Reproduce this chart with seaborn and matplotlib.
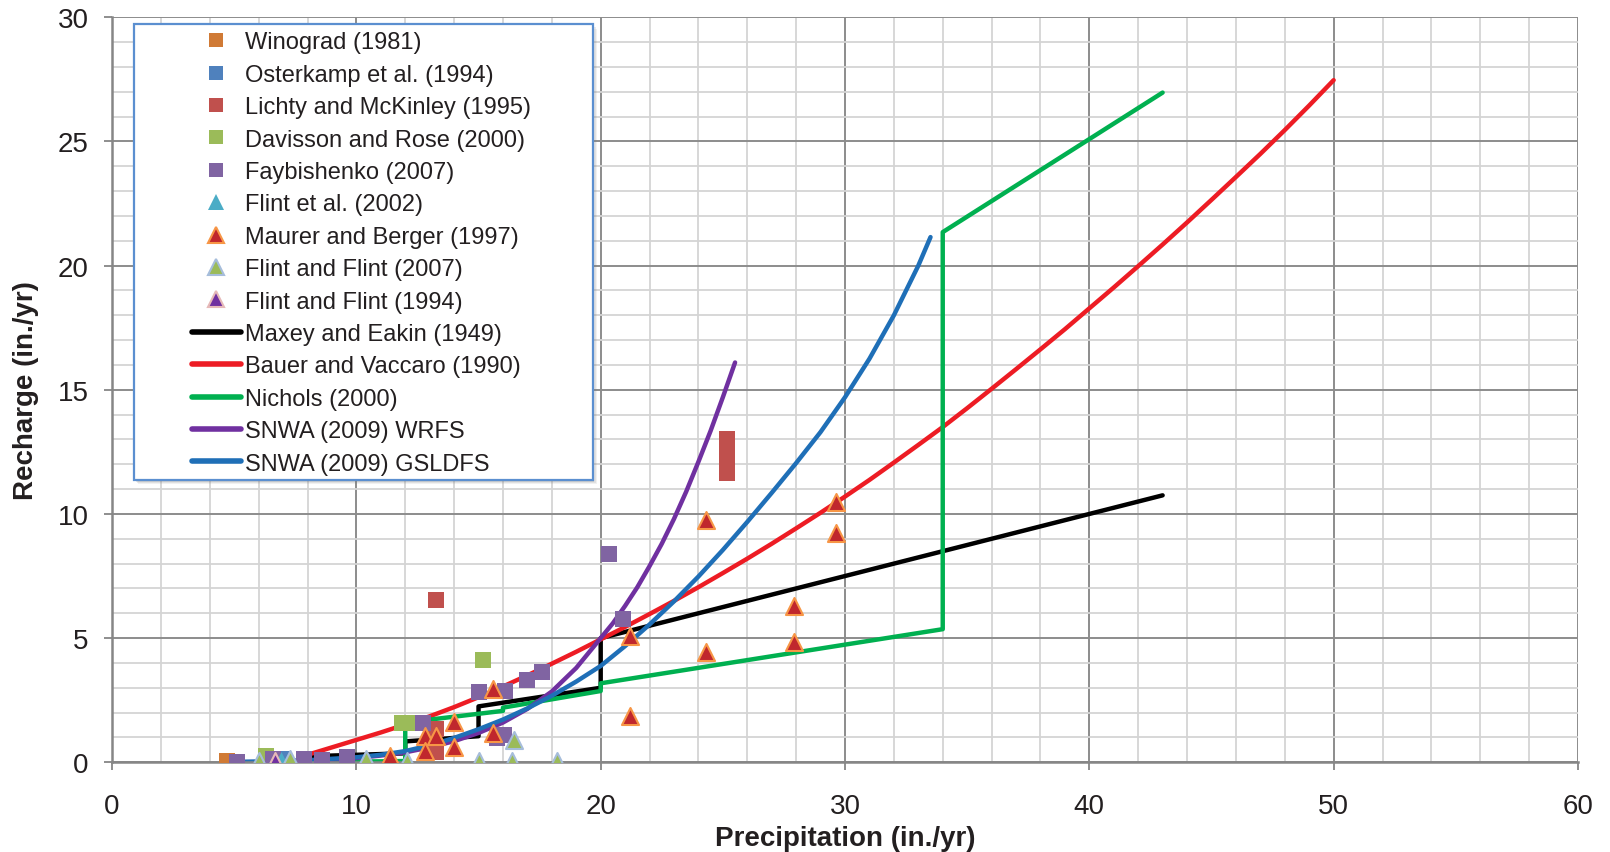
import seaborn as sns
import matplotlib.pyplot as plt
from matplotlib.lines import Line2D
from matplotlib.patches import Rectangle

# ---- point data (precipitation, recharge; in./yr) ----
winograd_x = [4.7]
winograd_y = [0.07]

osterkamp_x = [7.0]
osterkamp_y = [0.15]

lichty_x = [13.24, 13.26, 13.26, 25.16, 25.16, 25.16, 25.16]
lichty_y = [6.55, 1.34, 0.41, 11.63, 12.14, 12.57, 13.0]

davisson_x = [6.3, 11.86, 12.33, 15.2]
davisson_y = [0.27, 1.57, 1.57, 4.13]

faybishenko_x = [5.1, 6.58, 7.86, 8.58, 9.6, 12.74, 15.0, 16.09, 16.97, 17.61,
                 15.75, 16.05, 20.36, 20.9]
faybishenko_y = [0.03, 0.13, 0.15, 0.1, 0.2, 1.57, 2.81, 2.87, 3.31, 3.64,
                 0.96, 1.1, 8.38, 5.77]

flint2002_x = [6.9]
flint2002_y = [0.1]

maurer_x = [11.38, 12.79, 13.26, 12.79, 14.0, 14.0, 15.61, 15.61, 21.2, 21.2,
            24.31, 24.31, 27.92, 27.92, 29.62, 29.62]
maurer_y = [0.27, 1.07, 1.07, 0.46, 1.62, 0.63, 2.94, 1.18, 1.85, 5.07,
            9.76, 4.43, 6.31, 4.86, 10.48, 9.25]

flint2007_x = [6.03, 7.29, 10.4, 12.09, 15.0, 16.36, 18.23, 16.46]
flint2007_y = [0.07, 0.13, 0.13, 0.07, 0.07, 0.07, 0.07, 0.9]

flint1994_x = [6.67]
flint1994_y = [0.07]

# ---- curves ----
maxey_x = [8, 12, 12, 15, 15, 20, 20, 43]
maxey_y = [0.24, 0.36, 0.84, 1.05, 2.25, 3.0, 5.0, 10.75]

bauer_x = [8, 9, 10, 11, 12, 13, 14, 15, 16, 17, 18, 19, 20, 21, 22, 23, 24, 25,
           26, 27, 28, 29, 30, 31, 32, 33, 34, 35, 36, 37, 38, 39, 40, 41, 42,
           43, 44, 45, 46, 47, 48, 49, 50]
bauer_y = [0.3, 0.6, 0.9, 1.2, 1.52, 1.85, 2.22, 2.62, 3.05, 3.5, 3.97, 4.45,
           4.95, 5.45, 5.97, 6.5, 7.05, 7.62, 8.2, 8.8, 9.42, 10.05, 10.7, 11.37,
           12.07, 12.78, 13.5, 14.26, 15.04, 15.83, 16.63, 17.44, 18.28, 19.12,
           19.98, 20.85, 21.74, 22.65, 23.57, 24.5, 25.46, 26.45, 27.47]

nichols_x = [8, 12, 12, 16, 16, 20, 20, 34, 34, 43]
nichols_y = [0.0, 0.05, 1.6, 2.07, 2.2, 2.87, 3.18, 5.36, 21.35, 26.97]

wrfs_x = [5, 6, 7, 8, 9, 10, 11, 12, 13, 14, 15, 16, 17, 18, 19, 20, 20.5, 21,
          21.5, 22, 22.5, 23, 23.5, 24, 24.5, 25, 25.5]
wrfs_y = [0.0, 0.01, 0.03, 0.06, 0.1, 0.17, 0.27, 0.4, 0.6, 0.85, 1.18, 1.6,
          2.15, 2.85, 3.8, 5.0, 5.6, 6.3, 7.05, 7.9, 8.8, 9.8, 10.9, 12.1, 13.35,
          14.7, 16.1]

gsldfs_x = [4.7, 6, 8, 10, 11, 12, 13, 14, 15, 16, 17, 18, 19, 20, 21, 22, 23,
            24, 25, 26, 27, 28, 29, 30, 31, 32, 33, 33.5]
gsldfs_y = [0.01, 0.03, 0.08, 0.2, 0.3, 0.45, 0.68, 0.98, 1.33, 1.72, 2.17,
            2.68, 3.25, 3.88, 4.68, 5.55, 6.48, 7.48, 8.55, 9.68, 10.85, 12.05,
            13.3, 14.7, 16.25, 18.0, 20.0, 21.15]

sns.set_theme(style="white")
plt.rcParams["font.family"] = ["Liberation Sans", "DejaVu Sans"]

fig = plt.figure(figsize=(16.1, 8.53), dpi=100)
ax = fig.add_axes([0.0696, 0.1052, 0.9105, 0.8733])

# curves
curves = [
    ("Maxey and Eakin (1949)", maxey_x, maxey_y, "black"),
    ("Bauer and Vaccaro (1990)", bauer_x, bauer_y, "#ED1C24"),
    ("Nichols (2000)", nichols_x, nichols_y, "#00B050"),
    ("SNWA (2009) WRFS", wrfs_x, wrfs_y, "#7030A0"),
    ("SNWA (2009) GSLDFS", gsldfs_x, gsldfs_y, "#1F6FB7"),
]
for name, xs, ys, col in curves:
    sns.lineplot(x=xs, y=ys, sort=False, estimator=None, color=col, lw=3.2,
                 solid_capstyle="round", solid_joinstyle="round", ax=ax, zorder=2)

# point series: (name, x, y, marker, face, edge, edge width)
points = [
    ("Winograd (1981)", winograd_x, winograd_y, "s", "#D07A35", "#D07A35", 0),
    ("Osterkamp et al. (1994)", osterkamp_x, osterkamp_y, "s", "#4F81BD", "#4F81BD", 0),
    ("Lichty and McKinley (1995)", lichty_x, lichty_y, "s", "#C0504D", "#C0504D", 0),
    ("Davisson and Rose (2000)", davisson_x, davisson_y, "s", "#9BBB59", "#9BBB59", 0),
    ("Faybishenko (2007)", faybishenko_x, faybishenko_y, "s", "#8064A2", "#8064A2", 0),
    ("Flint et al. (2002)", flint2002_x, flint2002_y, "^", "#4BACC6", "#4BACC6", 0),
    ("Maurer and Berger (1997)", maurer_x, maurer_y, "^", "#C0272D", "#F79646", 1.5),
    ("Flint and Flint (2007)", flint2007_x, flint2007_y, "^", "#9BBB59", "#A6BDDB", 1.5),
    ("Flint and Flint (1994)", flint1994_x, flint1994_y, "^", "#7030A0", "#E6B9B8", 1.5),
]
for name, xs, ys, mk, fc, ec, ew in points:
    sns.scatterplot(x=xs, y=ys, marker=mk, s=125 if mk == "s" else 150, color=fc,
                    edgecolor=ec, linewidth=ew, ax=ax, zorder=3)

ax.set_xlim(0, 60)
ax.set_ylim(0, 30)
ax.set_xticks(range(0, 61, 10))
ax.set_xticks(range(0, 61, 2), minor=True)
ax.set_yticks(range(0, 31, 5))
ax.set_yticks(range(0, 31, 1), minor=True)
ax.set_axisbelow(True)
ax.grid(which="minor", color="#d4d4d4", lw=1.3)
ax.grid(which="major", color="#8c8c8c", lw=1.4)
for side in ["top", "right"]:
    ax.spines[side].set_visible(False)
for side in ["left", "bottom"]:
    ax.spines[side].set_color("#868686")
    ax.spines[side].set_linewidth(1.8)
ax.tick_params(which="major", direction="out", length=6, width=1.3, color="#868686",
               labelsize=20, labelcolor="#231F20", left=True, bottom=True)
ax.tick_params(axis="x", pad=16)
ax.tick_params(axis="y", pad=11)
ax.tick_params(which="minor", length=0)

ax.set_xlabel("Precipitation (in./yr)", fontsize=20, fontweight="bold", color="#231F20")
ax.set_ylabel("Recharge (in./yr)", fontsize=20, fontweight="bold", color="#231F20")
ax.xaxis.set_label_coords(0.5, -0.084)
ax.yaxis.set_label_coords(-0.05, 0.5)

# legend frame drawn by hand (wide left margin like the original)
for off, a in [(0.006, 0.10), (0.004, 0.15), (0.002, 0.2)]:
    ax.add_patch(Rectangle((0.015 + off * 0.5, 0.3789 - off), 0.3129, 0.6121,
                           transform=ax.transAxes, facecolor="#7f7f7f", alpha=a,
                           edgecolor="none", zorder=4, clip_on=False))
ax.add_patch(Rectangle((0.015, 0.3789), 0.3129, 0.6121, transform=ax.transAxes,
                       facecolor="white", edgecolor="#5B8FD0", lw=1.6, zorder=4.5,
                       clip_on=False))

handles = []
for name, xs, ys, mk, fc, ec, ew in points:
    handles.append(Line2D([], [], ls="none", marker=mk, ms=10 if mk == "s" else 11,
                          mfc=fc, mec=ec, mew=ew, label=name))
for name, xs, ys, col in curves:
    handles.append(Line2D([], [], color=col, lw=4, label=name))

leg = ax.legend(handles=handles, loc="upper left", bbox_to_anchor=(0.0544, 0.981),
                frameon=False, borderpad=0, borderaxespad=0, fontsize=17,
                handlelength=2.08, handletextpad=0.18, labelspacing=0.44)
leg.set_zorder(5)
for t in leg.get_texts():
    t.set_color("#231F20")

plt.savefig("out.png", dpi=100)
